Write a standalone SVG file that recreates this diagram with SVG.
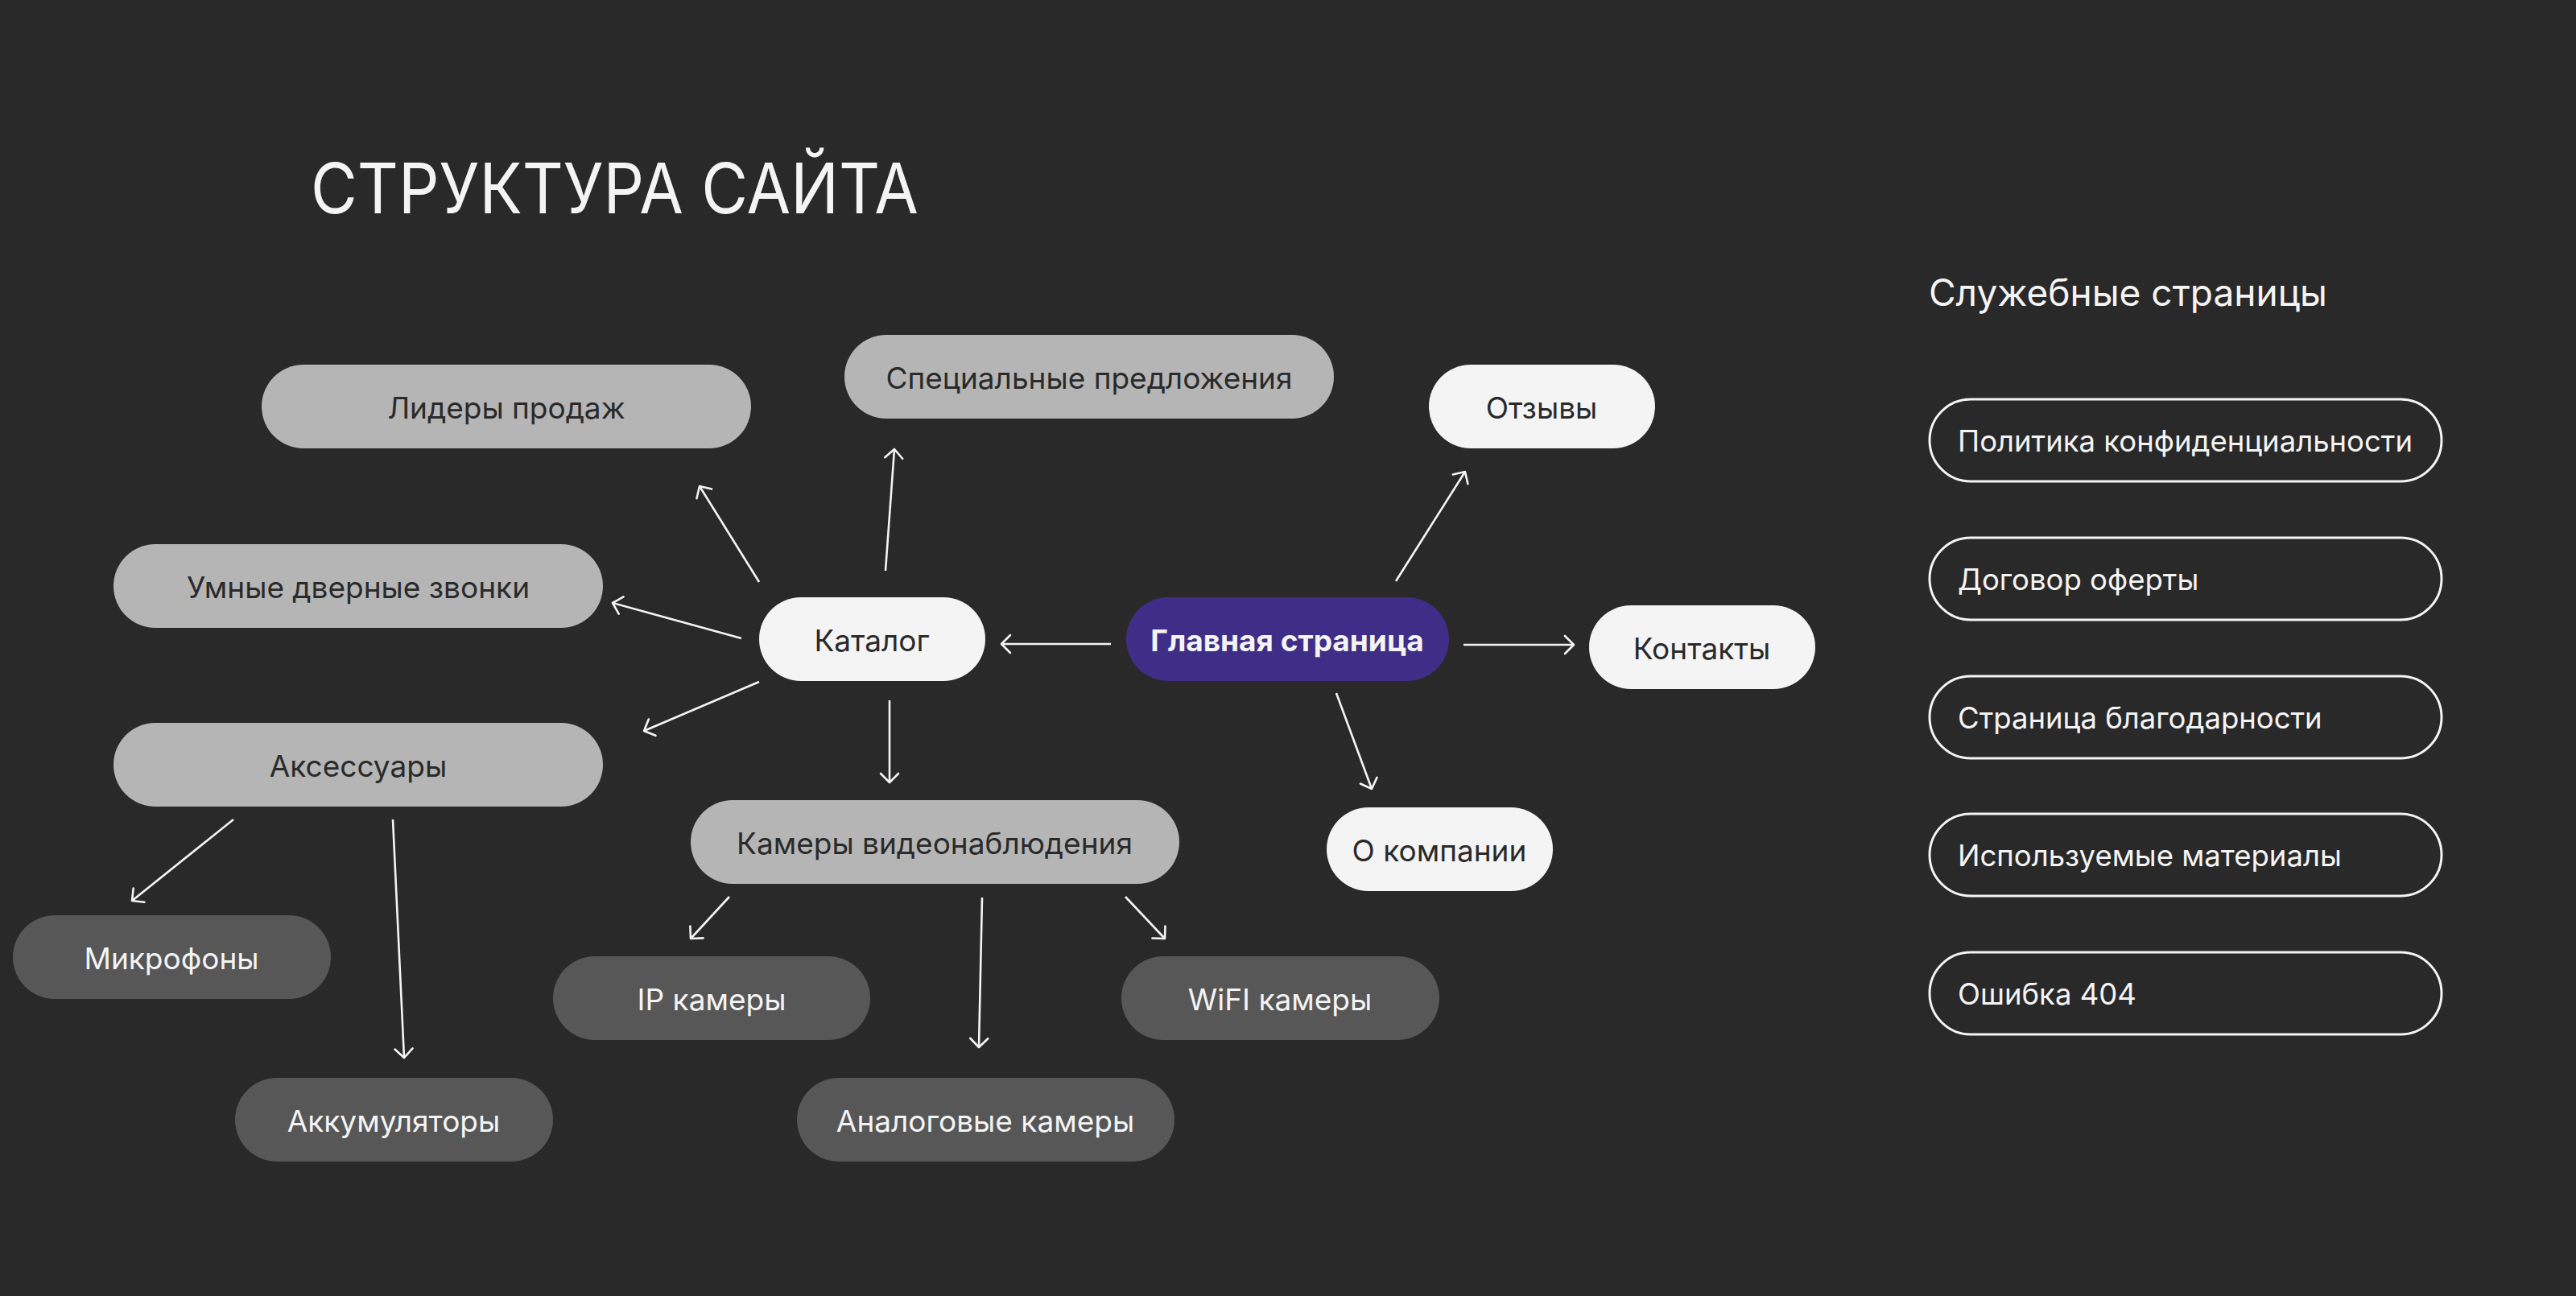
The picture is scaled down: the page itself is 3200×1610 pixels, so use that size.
<svg xmlns="http://www.w3.org/2000/svg" width="3200" height="1610" viewBox="0 0 3200 1610">
<defs>
<style>
.bg{fill:#292929}
.t{font-family:Inter,"Noto Sans","Liberation Sans",sans-serif;font-size:37px;text-anchor:middle}
.gray{fill:#b5b5b5}
.white{fill:#f4f4f4}
.dark{fill:#575757}
.purple{fill:#3f2e87}
.dt{fill:#2a2a2a}
.lt{fill:#f4f4f4}
.out{fill:none;stroke:#f4f4f4;stroke-width:3}
.st{font-family:Inter,"Noto Sans","Liberation Sans",sans-serif;font-size:36.5px;fill:#f4f4f4}
.c line{stroke:#f4f4f4;stroke-width:2.6;marker-end:url(#ah)}
</style>
<marker id="ah" markerUnits="userSpaceOnUse" viewBox="-14 -14 16 28" refX="0" refY="0" markerWidth="16" markerHeight="28" orient="auto">
<path d="M-11,-11 L0,0 L-11,11" fill="none" stroke="#f4f4f4" stroke-width="2.6" stroke-linecap="round" stroke-linejoin="round"/>
</marker>
</defs>
<rect class="bg" x="0" y="0" width="3200" height="1610"/>

<text x="386" y="265" font-family="Inter,'Noto Sans','Liberation Sans',sans-serif" font-size="86" fill="#f4f4f4" textLength="755" lengthAdjust="spacingAndGlyphs">СТРУКТУРА САЙТА</text>

<g class="c" id="connectors">
<line x1="1380" y1="800" x2="1244" y2="800"/>
<line x1="1818" y1="801" x2="1955" y2="801"/>
<line x1="1734" y1="722" x2="1820" y2="586"/>
<line x1="1660" y1="861" x2="1704" y2="980"/>
<line x1="943" y1="723" x2="869" y2="604"/>
<line x1="1100" y1="709" x2="1111" y2="558"/>
<line x1="921" y1="793" x2="761" y2="749"/>
<line x1="943" y1="847" x2="800" y2="908"/>
<line x1="1105" y1="870" x2="1105" y2="972"/>
<line x1="290" y1="1018" x2="164" y2="1119"/>
<line x1="488" y1="1018" x2="502" y2="1314"/>
<line x1="906" y1="1114" x2="858" y2="1166"/>
<line x1="1220" y1="1115" x2="1216" y2="1301"/>
<line x1="1398" y1="1114" x2="1447" y2="1166"/>
</g>

<g id="n-lidery"><rect class="gray" x="325" y="453" width="608" height="104" rx="52"/><text class="t dt" x="629" y="520">Лидеры продаж</text></g>
<g id="n-spec"><rect class="gray" x="1049" y="416" width="608" height="104" rx="52"/><text class="t dt" x="1353" y="483">Специальные предложения</text></g>
<g id="n-otzyvy"><rect class="white" x="1775" y="453" width="281" height="104" rx="52"/><text class="t dt" x="1915" y="520">Отзывы</text></g>
<g id="n-umnye"><rect class="gray" x="141" y="676" width="608" height="104" rx="52"/><text class="t dt" x="445" y="743">Умные дверные звонки</text></g>
<g id="n-katalog"><rect class="white" x="943" y="742" width="281" height="104" rx="52"/><text class="t dt" x="1083" y="809">Каталог</text></g>
<g id="n-glavnaya"><rect class="purple" x="1399" y="742" width="401" height="104" rx="52"/><text class="t lt" x="1599" y="809" font-weight="700">Главная страница</text></g>
<g id="n-kontakty"><rect class="white" x="1974" y="752" width="281" height="104" rx="52"/><text class="t dt" x="2114" y="819">Контакты</text></g>
<g id="n-aksessuary"><rect class="gray" x="141" y="898" width="608" height="104" rx="52"/><text class="t dt" x="445" y="965">Аксессуары</text></g>
<g id="n-kamery"><rect class="gray" x="858" y="994" width="607" height="104" rx="52"/><text class="t dt" x="1161" y="1061">Камеры видеонаблюдения</text></g>
<g id="n-okompanii"><rect class="white" x="1648" y="1003" width="281" height="104" rx="52"/><text class="t dt" x="1788" y="1070">О компании</text></g>
<g id="n-mikrofony"><rect class="dark" x="16" y="1137" width="395" height="104" rx="52"/><text class="t lt" x="213" y="1204">Микрофоны</text></g>
<g id="n-ip"><rect class="dark" x="687" y="1188" width="394" height="104" rx="52"/><text class="t lt" x="884" y="1255">IP камеры</text></g>
<g id="n-wifi"><rect class="dark" x="1393" y="1188" width="395" height="104" rx="52"/><text class="t lt" x="1590" y="1255">WiFI камеры</text></g>
<g id="n-akkum"><rect class="dark" x="292" y="1339" width="395" height="104" rx="52"/><text class="t lt" x="489" y="1406">Аккумуляторы</text></g>
<g id="n-analog"><rect class="dark" x="990" y="1339" width="469" height="104" rx="52"/><text class="t lt" x="1224" y="1406">Аналоговые камеры</text></g>

<text x="2396" y="380" font-family="Inter,'Noto Sans','Liberation Sans',sans-serif" font-size="46" fill="#f4f4f4">Служебные страницы</text>
<g id="s-politika"><rect class="out" x="2397" y="496" width="636" height="102" rx="51"/><text class="st" x="2432" y="561">Политика конфиденциальности</text></g>
<g id="s-dogovor"><rect class="out" x="2397" y="668" width="636" height="102" rx="51"/><text class="st" x="2432" y="733">Договор оферты</text></g>
<g id="s-blagodar"><rect class="out" x="2397" y="840" width="636" height="102" rx="51"/><text class="st" x="2432" y="905">Страница благодарности</text></g>
<g id="s-materialy"><rect class="out" x="2397" y="1011" width="636" height="102" rx="51"/><text class="st" x="2432" y="1076">Используемые материалы</text></g>
<g id="s-404"><rect class="out" x="2397" y="1183" width="636" height="102" rx="51"/><text class="st" x="2432" y="1248">Ошибка 404</text></g>
</svg>
